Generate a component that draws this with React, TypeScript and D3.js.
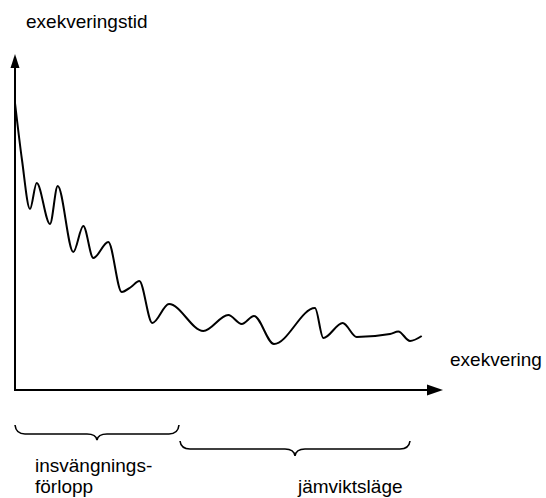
import React from "react";
import * as d3 from "d3";

// execution (x) and execution time (y) samples
const execution = [0, 7, 15, 21.7, 35, 42.7, 58.3, 68.3, 78.3, 93.3, 106.7, 116, 124.3, 137.3, 154, 188.3, 213.3, 226.7, 239, 259, 300, 308.3, 327.7, 341.7, 375, 383.3, 395, 406.7];
const execTime = [287, 230, 181, 207, 166, 204, 138, 164, 132, 148, 98, 103, 109, 67, 86, 59, 75, 66, 74, 46, 82, 52, 67, 53, 56, 58.5, 49, 54];

const yAxisLabel = "exekveringstid";
const xAxisLabel = "exekvering";
const braceStarts = [0, 165];
const braceEnds = [164, 395];
const braceLabels = [["insvängnings-", "förlopp"], ["jämviktsläge"]];

const W = 546;
const H = 498;
const FONT = "'Liberation Sans', Arial, Helvetica, sans-serif";

export default function App() {
  const x = d3.scaleLinear().domain([0, 415]).range([15, 430]);
  const y = d3.scaleLinear().domain([0, 320]).range([390, 70]);

  const pts = execution.map((e, i) => [e, execTime[i]] as [number, number]);
  const line = d3
    .line<[number, number]>()
    .x((d) => x(d[0]))
    .y((d) => y(d[1]))
    .curve(d3.curveMonotoneX);

  const braceGeom = [
    { top: 425, mid: 434, tip: 440 },
    { top: 441, mid: 449, tip: 456 },
  ];

  const bracePath = (x1: number, x2: number, top: number, mid: number, tip: number) => {
    const c = (x1 + x2) / 2;
    const r = 10;
    const p = d3.path();
    p.moveTo(x1, top);
    p.quadraticCurveTo(x1 + 1, mid, x1 + r, mid);
    p.lineTo(c - r, mid);
    p.quadraticCurveTo(c - 1, mid, c, tip);
    p.quadraticCurveTo(c + 1, mid, c + r, mid);
    p.lineTo(x2 - r, mid);
    p.quadraticCurveTo(x2 - 1, mid, x2, top);
    return p.toString();
  };

  const labelX = [35, 298];
  const labelY = [[472, 493], [493]];

  return (
    <svg
      width={W}
      height={H}
      style={{ position: "absolute", left: 0, top: 0, background: "#fff" }}
      fontFamily={FONT}
    >
      {/* axes */}
      <line x1={x(0)} y1={y(0)} x2={x(0)} y2={67} stroke="#000" strokeWidth={2} />
      <path d={`M${x(0) - 4.5},68 L${x(0)},54 L${x(0) + 4.5},68 Z`} fill="#000" />
      <line x1={x(0) - 1} y1={y(0)} x2={428} y2={y(0)} stroke="#000" strokeWidth={2} />
      <path d={`M427,${y(0) - 5.5} L443,${y(0)} L427,${y(0) + 5.5} Z`} fill="#000" />

      {/* curve */}
      <path d={line(pts) || ""} fill="none" stroke="#000" strokeWidth={2} strokeLinejoin="round" />

      {/* axis labels */}
      <text x={26} y={28} fontSize={19} fill="#000">{yAxisLabel}</text>
      <text x={450} y={366} fontSize={19} fill="#000">{xAxisLabel}</text>

      {/* braces */}
      {braceStarts.map((s, i) => (
        <path
          key={"b" + i}
          d={bracePath(x(s), x(braceEnds[i]), braceGeom[i].top, braceGeom[i].mid, braceGeom[i].tip)}
          fill="none"
          stroke="#000"
          strokeWidth={1.6}
        />
      ))}
      {braceLabels.map((lines, i) =>
        lines.map((t, j) => (
          <text key={`l${i}-${j}`} x={labelX[i]} y={labelY[i][j]} fontSize={19} fill="#000">
            {t}
          </text>
        ))
      )}
    </svg>
  );
}
